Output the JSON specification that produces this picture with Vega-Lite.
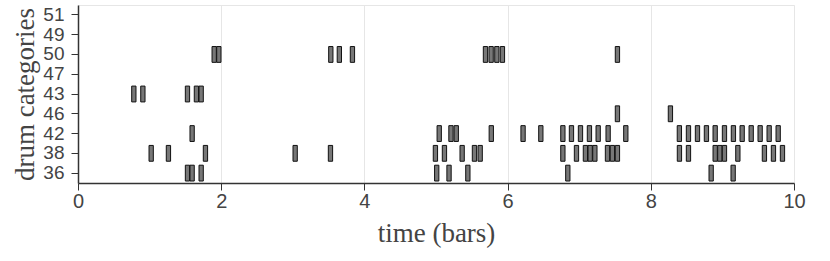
{
  "$schema": "https://vega.github.io/schema/vega-lite/v6.json",
  "width": 716,
  "height": 178,
  "autosize": {"type": "none"},
  "padding": {"left": 78, "top": 5, "right": 36, "bottom": 78},
  "background": "white",
  "config": {
    "view": {"stroke": "#e6e6e6"},
    "axis": {
      "labelFont": "Liberation Sans",
      "labelFontSize": 20,
      "labelColor": "#444444",
      "labelFlush": false,
      "labelOverlap": false,
      "titleFont": "Liberation Serif",
      "titleFontSize": 27,
      "titleFontWeight": "normal",
      "titleColor": "#444444",
      "domainColor": "#333333",
      "tickColor": "#333333",
      "tickSize": 7,
      "domainWidth": 1.5
    }
  },
  "data": {
    "values": [
      {"drum": "38", "start": 0.992, "end": 1.052},
      {"drum": "38", "start": 1.233, "end": 1.293},
      {"drum": "38", "start": 1.750, "end": 1.810},
      {"drum": "38", "start": 3.003, "end": 3.063},
      {"drum": "38", "start": 3.496, "end": 3.556},
      {"drum": "38", "start": 4.962, "end": 5.022},
      {"drum": "38", "start": 5.088, "end": 5.148},
      {"drum": "38", "start": 5.335, "end": 5.395},
      {"drum": "38", "start": 5.507, "end": 5.567},
      {"drum": "38", "start": 5.587, "end": 5.647},
      {"drum": "38", "start": 6.742, "end": 6.802},
      {"drum": "38", "start": 6.932, "end": 6.992},
      {"drum": "38", "start": 7.057, "end": 7.117},
      {"drum": "38", "start": 7.123, "end": 7.183},
      {"drum": "38", "start": 7.189, "end": 7.249},
      {"drum": "38", "start": 7.365, "end": 7.425},
      {"drum": "38", "start": 7.434, "end": 7.494},
      {"drum": "38", "start": 7.504, "end": 7.564},
      {"drum": "38", "start": 8.370, "end": 8.430},
      {"drum": "38", "start": 8.496, "end": 8.556},
      {"drum": "38", "start": 8.869, "end": 8.929},
      {"drum": "38", "start": 8.934, "end": 8.994},
      {"drum": "38", "start": 8.999, "end": 9.059},
      {"drum": "38", "start": 9.186, "end": 9.246},
      {"drum": "38", "start": 9.557, "end": 9.617},
      {"drum": "38", "start": 9.683, "end": 9.743},
      {"drum": "38", "start": 9.809, "end": 9.869},
      {"drum": "36", "start": 1.499, "end": 1.559},
      {"drum": "36", "start": 1.564, "end": 1.624},
      {"drum": "36", "start": 1.690, "end": 1.750},
      {"drum": "36", "start": 4.980, "end": 5.040},
      {"drum": "36", "start": 5.152, "end": 5.212},
      {"drum": "36", "start": 5.415, "end": 5.475},
      {"drum": "36", "start": 6.811, "end": 6.871},
      {"drum": "36", "start": 8.813, "end": 8.873},
      {"drum": "36", "start": 9.120, "end": 9.180},
      {"drum": "42", "start": 1.564, "end": 1.624},
      {"drum": "42", "start": 5.015, "end": 5.075},
      {"drum": "42", "start": 5.179, "end": 5.239},
      {"drum": "42", "start": 5.253, "end": 5.313},
      {"drum": "42", "start": 5.742, "end": 5.802},
      {"drum": "42", "start": 6.186, "end": 6.246},
      {"drum": "42", "start": 6.434, "end": 6.494},
      {"drum": "42", "start": 6.742, "end": 6.802},
      {"drum": "42", "start": 6.862, "end": 6.922},
      {"drum": "42", "start": 6.988, "end": 7.048},
      {"drum": "42", "start": 7.113, "end": 7.173},
      {"drum": "42", "start": 7.235, "end": 7.295},
      {"drum": "42", "start": 7.374, "end": 7.434},
      {"drum": "42", "start": 7.621, "end": 7.681},
      {"drum": "42", "start": 8.369, "end": 8.429},
      {"drum": "42", "start": 8.496, "end": 8.556},
      {"drum": "42", "start": 8.622, "end": 8.682},
      {"drum": "42", "start": 8.747, "end": 8.807},
      {"drum": "42", "start": 8.869, "end": 8.929},
      {"drum": "42", "start": 8.999, "end": 9.059},
      {"drum": "42", "start": 9.124, "end": 9.184},
      {"drum": "42", "start": 9.246, "end": 9.306},
      {"drum": "42", "start": 9.372, "end": 9.432},
      {"drum": "42", "start": 9.497, "end": 9.557},
      {"drum": "42", "start": 9.623, "end": 9.683},
      {"drum": "42", "start": 9.749, "end": 9.809},
      {"drum": "46", "start": 7.504, "end": 7.564},
      {"drum": "46", "start": 8.244, "end": 8.304},
      {"drum": "43", "start": 0.750, "end": 0.810},
      {"drum": "43", "start": 0.876, "end": 0.936},
      {"drum": "43", "start": 1.499, "end": 1.559},
      {"drum": "43", "start": 1.624, "end": 1.684},
      {"drum": "43", "start": 1.690, "end": 1.750},
      {"drum": "50", "start": 1.872, "end": 1.932},
      {"drum": "50", "start": 1.937, "end": 1.997},
      {"drum": "50", "start": 3.501, "end": 3.561},
      {"drum": "50", "start": 3.620, "end": 3.680},
      {"drum": "50", "start": 3.803, "end": 3.863},
      {"drum": "50", "start": 5.661, "end": 5.721},
      {"drum": "50", "start": 5.740, "end": 5.800},
      {"drum": "50", "start": 5.820, "end": 5.880},
      {"drum": "50", "start": 5.898, "end": 5.958},
      {"drum": "50", "start": 7.504, "end": 7.564}
    ]
  },
  "mark": {"type": "rect", "fill": "#777777", "stroke": "#111111", "strokeWidth": 1},
  "encoding": {
    "x": {
      "field": "start",
      "type": "quantitative",
      "scale": {"domain": [0, 10], "nice": false},
      "axis": {
        "values": [0, 2, 4, 6, 8, 10],
        "grid": true,
        "gridColor": "#e6e6e6",
        "gridWidth": 1,
        "labelPadding": 1,
        "title": "time (bars)",
        "titlePadding": 9
      }
    },
    "x2": {"field": "end"},
    "y": {
      "field": "drum",
      "type": "nominal",
      "scale": {
        "domain": ["51", "49", "50", "47", "43", "46", "42", "38", "36"],
        "paddingInner": 0.2,
        "paddingOuter": 0.1
      },
      "axis": {
        "grid": false,
        "labelFontSize": 19,
        "labelPadding": 7,
        "title": "drum categories",
        "titlePadding": 3
      }
    }
  }
}
